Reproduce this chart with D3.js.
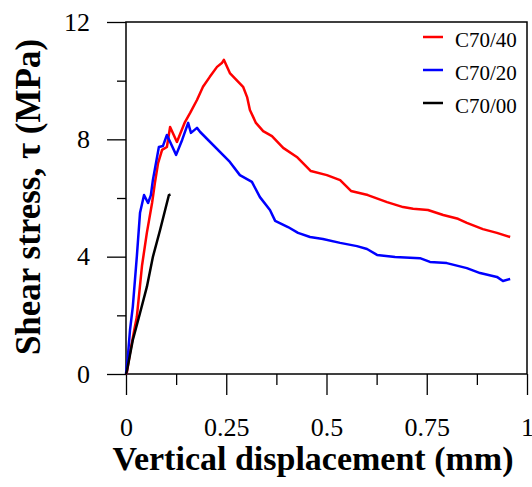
<!DOCTYPE html>
<html>
<head>
<meta charset="utf-8">
<script src="https://cdn.jsdelivr.net/npm/d3@7"></script>
<style>
    body { margin: 0; background: #fff; }
    svg text { font-family: "Liberation Serif", "Times New Roman", serif; fill: #000; }
</style>
</head>
<body>
<svg id="chart" width="532" height="487"></svg>
<script>
// series names and colours (legend order)
let seriesNames = ["C70/40", "C70/20", "C70/00"];
let seriesColors = ["#ff0000", "#0000ff", "#000000"];

// [vertical displacement (mm), shear stress (MPa)]
let c7040 = [
    [0, 0], [0.002, 0.03], [0.01, 0.72], [0.022, 1.6], [0.027, 1.94], [0.04, 3.7],
    [0.052, 4.81], [0.065, 5.83], [0.072, 6.51], [0.08, 7.19], [0.09, 7.64],
    [0.102, 7.74], [0.11, 8.42], [0.127, 7.91], [0.147, 8.59], [0.16, 8.9],
    [0.177, 9.34], [0.192, 9.79], [0.209, 10.13], [0.227, 10.47], [0.239, 10.6],
    [0.244, 10.71], [0.259, 10.26], [0.292, 9.79], [0.302, 9.44], [0.309, 9.0],
    [0.324, 8.56], [0.342, 8.28], [0.364, 8.11], [0.392, 7.71], [0.426, 7.4],
    [0.461, 6.92], [0.501, 6.78], [0.534, 6.61], [0.561, 6.24], [0.603, 6.1],
    [0.651, 5.86], [0.691, 5.69], [0.716, 5.63], [0.753, 5.59], [0.791, 5.42],
    [0.828, 5.29], [0.85, 5.15], [0.89, 4.94], [0.925, 4.81], [0.958, 4.67]
];
let c7020 = [
    [0, 0], [0.004, 0.5], [0.01, 1.5], [0.017, 2.3], [0.027, 4.0], [0.035, 5.5],
    [0.045, 6.1], [0.055, 5.83], [0.062, 6.1], [0.067, 6.61], [0.082, 7.74], [0.092, 7.77],
    [0.102, 8.15], [0.125, 7.47], [0.14, 7.98], [0.155, 8.56], [0.162, 8.22],
    [0.177, 8.39], [0.185, 8.25], [0.259, 7.23], [0.284, 6.78], [0.314, 6.55],
    [0.334, 6.03], [0.359, 5.59], [0.372, 5.22], [0.404, 5.01], [0.429, 4.81],
    [0.459, 4.67], [0.491, 4.6], [0.534, 4.47], [0.576, 4.36], [0.601, 4.26],
    [0.626, 4.06], [0.671, 3.99], [0.733, 3.95], [0.758, 3.82], [0.8, 3.78],
    [0.85, 3.61], [0.883, 3.44], [0.925, 3.31], [0.94, 3.17], [0.958, 3.24]
];
let c7000 = [
    [0, 0], [0.003, 0.15], [0.017, 1.16], [0.035, 2.08], [0.052, 2.97], [0.067, 3.99],
    [0.085, 4.91], [0.107, 6.1], [0.111, 6.12]
];

let xMajorTicks = [0, 0.25, 0.5, 0.75, 1];
let xMinorTicks = [0.125, 0.375, 0.625, 0.875];
let yMajorTicks = [0, 4, 8, 12];
let yMinorTicks = [2, 6, 10];

let xLabel = "Vertical displacement (mm)";
let yLabel = "Shear stress, \u03c4 (MPa)";

let plotLeft = 126, plotRight = 527, plotTop = 22, plotBottom = 374;

let svg = d3.select("#chart");

let x = d3.scaleLinear().domain([0, 1]).range([plotLeft, plotRight]);
let y = d3.scaleLinear().domain([0, 12]).range([plotBottom, plotTop]);

// axes
function styleAxis(g) {
    g.attr("font-family", null).attr("font-size", null);
    g.select(".domain").remove();
    g.selectAll("line").attr("stroke", "#000").attr("stroke-width", 1.3);
    g.selectAll("text").style("font-size", "26px");
}

svg.append("g")
    .attr("transform", `translate(0,${plotBottom})`)
    .call(d3.axisBottom(x).tickValues(xMajorTicks).tickSize(21).tickPadding(23).tickFormat(d => String(d)))
    .call(styleAxis);
svg.append("g")
    .attr("transform", `translate(0,${plotBottom})`)
    .call(d3.axisBottom(x).tickValues(xMinorTicks).tickSize(11).tickFormat(""))
    .call(styleAxis);

svg.append("g")
    .attr("transform", `translate(${plotLeft},0)`)
    .call(d3.axisLeft(y).tickValues(yMajorTicks).tickSize(19).tickPadding(17).tickFormat(d => String(d)))
    .call(styleAxis);
svg.append("g")
    .attr("transform", `translate(${plotLeft},0)`)
    .call(d3.axisLeft(y).tickValues(yMinorTicks).tickSize(9).tickFormat(""))
    .call(styleAxis);

// frame
svg.append("rect")
    .attr("x", plotLeft)
    .attr("y", plotTop)
    .attr("width", plotRight - plotLeft)
    .attr("height", plotBottom - plotTop)
    .attr("fill", "none")
    .attr("stroke", "#000")
    .attr("stroke-width", 1.5);

// curves
let line = d3.line()
    .x(d => x(d[0]))
    .y(d => y(d[1]));

let allSeries = [c7040, c7020, c7000];
svg.append("g")
    .selectAll("path")
    .data(allSeries)
    .enter()
    .append("path")
    .attr("d", d => line(d))
    .attr("fill", "none")
    .attr("stroke", (d, i) => seriesColors[i])
    .attr("stroke-width", 2.5)
    .attr("stroke-linejoin", "round");

// legend
let legend = svg.append("g")
    .selectAll("g")
    .data(seriesNames)
    .enter()
    .append("g")
    .attr("transform", (d, i) => `translate(423,${37 + i * 33})`);
legend.append("line")
    .attr("x1", 0)
    .attr("x2", 20)
    .attr("stroke", (d, i) => seriesColors[i])
    .attr("stroke-width", 2.5);
legend.append("text")
    .attr("x", 32)
    .attr("y", 10)
    .style("font-size", "21px")
    .text(d => d);

// axis titles
svg.append("text")
    .attr("x", 313)
    .attr("y", 470)
    .attr("text-anchor", "middle")
    .style("font-size", "34px")
    .style("font-weight", "bold")
    .text(xLabel);

svg.append("text")
    .attr("transform", "translate(40,197) rotate(-90)")
    .attr("text-anchor", "middle")
    .style("font-size", "35px")
    .style("font-weight", "bold")
    .text(yLabel);
</script>
</body>
</html>
